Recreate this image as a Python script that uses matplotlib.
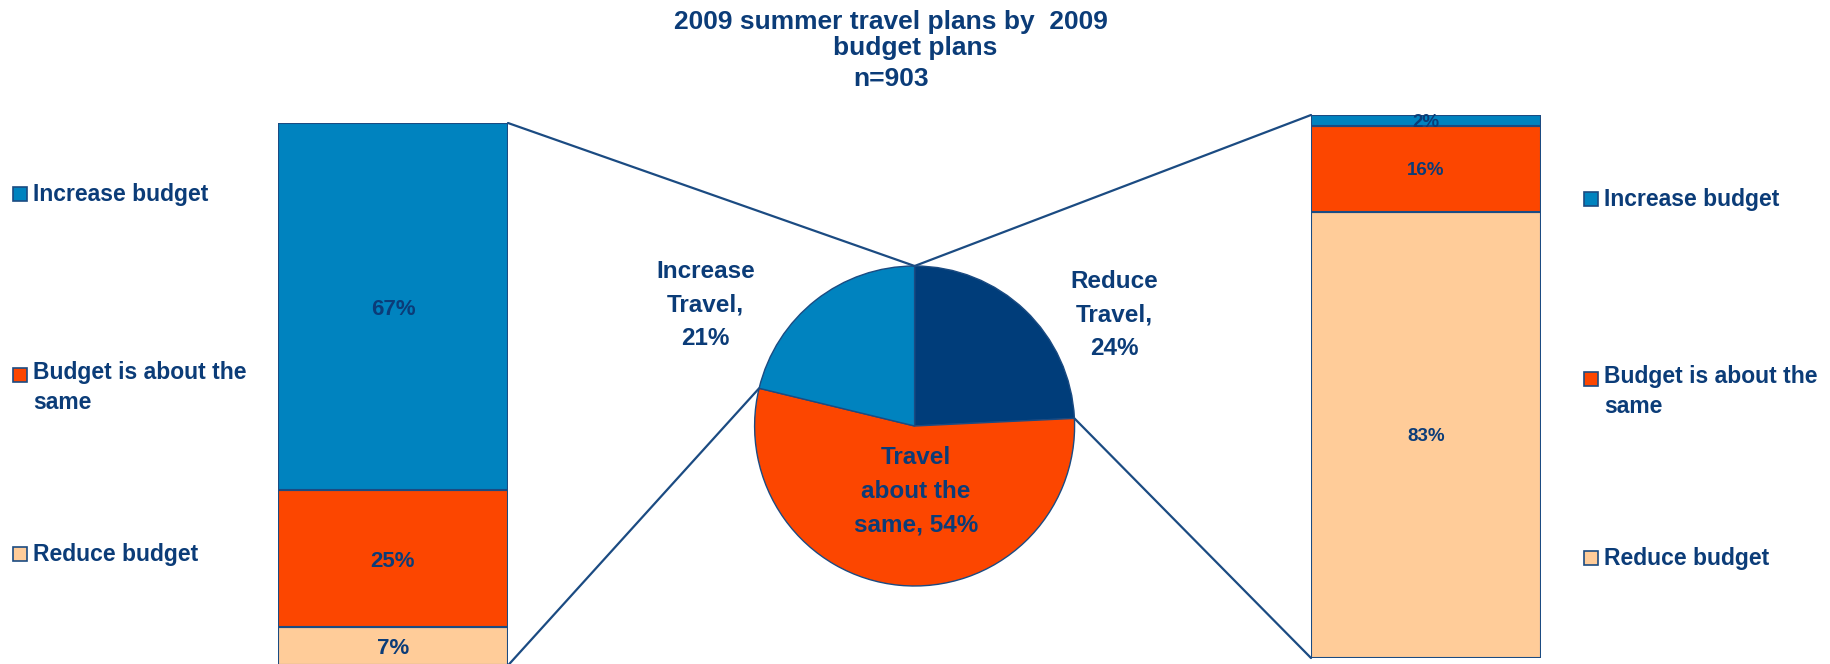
import matplotlib
matplotlib.use("Agg")
import matplotlib.pyplot as plt
from matplotlib.patches import ConnectionPatch, Rectangle
import numpy as np

# data
travel_labels = ['Reduce\nTravel,\n24%', 'Travel\nabout the\nsame, 54%', 'Increase\nTravel,\n21%']
travel_values = [24, 54, 21]
budget_labels = ['Increase budget', 'Budget is about the\nsame', 'Reduce budget']
increase_travel_budget = [67, 25, 7]   # increase, same, reduce
reduce_travel_budget = [2, 16, 83]
title_lines = ['2009 summer travel plans by  2009', 'budget plans', 'n=903']

navy = '#0B3C78'
edge = '#1B4B82'
budget_colors = ['#0083BF', '#FC4600', '#FFCC99']
travel_colors = ['#003D7A', '#FC4600', '#0083BF']

plt.rcParams['font.family'] = ['Liberation Sans', 'DejaVu Sans']
plt.rcParams['font.weight'] = 'bold'

W, H = 1831, 664
fig = plt.figure(figsize=(W / 100, H / 100), dpi=100)


def fx(px):
    return px / W


def fy(py):
    # pixel from top -> figure fraction
    return 1 - py / H


# title (baselines)
fig.text(fx(891), fy(29.3), title_lines[0], ha='center', va='baseline', fontsize=19, color=navy)
fig.text(fx(915), fy(55), title_lines[1], ha='center', va='baseline', fontsize=19, color=navy)
fig.text(fx(891), fy(86), title_lines[2], ha='center', va='baseline', fontsize=19, color=navy)

# pie
axP = fig.add_axes([fx(914.6 - 200), fy(426 + 200), 400 / W, 400 / H])
wedges, _ = axP.pie(travel_values, colors=travel_colors, startangle=90, counterclock=False,
                    wedgeprops=dict(edgecolor=edge, linewidth=1))
axP.set_xlim(-1.25, 1.25)
axP.set_ylim(-1.25, 1.25)
label_pos = [(1.25, 0.694), (0.009, -0.41), (-1.306, 0.756)]
for lab, (x, y) in zip(travel_labels, label_pos):
    axP.text(x, y, lab, ha='center', va='center', fontsize=17.5, color=navy,
             linespacing=1.6, clip_on=False)


def stacked_bar(ax, values, fontsize):
    # values listed top to bottom, stack from bottom
    bottom = 0
    for v, c in zip(values[::-1], budget_colors[::-1]):
        ax.bar(0, v, bottom=bottom, width=1, color=c, edgecolor=edge, linewidth=1.5)
        ax.text(0, bottom + v / 2, f'{v}%', ha='center', va='center_baseline',
                fontsize=fontsize, color=navy)
        bottom += v
    ax.set_xlim(-0.5, 0.5)
    ax.set_ylim(0, sum(values))
    ax.axis('off')


axL = fig.add_axes([fx(278), fy(665.4), 230 / W, (665.4 - 123) / H])
stacked_bar(axL, increase_travel_budget, 16)
axR = fig.add_axes([fx(1311), fy(658), 230 / W, (658 - 115) / H])
stacked_bar(axR, reduce_travel_budget, 13.5)

# connector lines
inc_w = wedges[2]
red_w = wedges[0]


def on_circle(deg):
    return (np.cos(np.radians(deg)), np.sin(np.radians(deg)))


for xyA, ang, ax in [((0.5, sum(increase_travel_budget)), inc_w.theta1, axL),
                     ((0.5, 0), inc_w.theta2, axL),
                     ((-0.5, sum(reduce_travel_budget)), red_w.theta2, axR),
                     ((-0.5, 0), red_w.theta1, axR)]:
    con = ConnectionPatch(xyA=xyA, coordsA=ax.transData, xyB=on_circle(ang),
                          coordsB=axP.transData, color=edge, linewidth=1.6)
    fig.add_artist(con)

# legends (square centre = first line centre)
legend_sets = [(13, [193.7, 375, 554]), (1584, [199, 379, 558])]
for x0, ys in legend_sets:
    for lab, c, y in zip(budget_labels, budget_colors, ys):
        fig.add_artist(Rectangle((fx(x0), fy(y + 7)), 14 / W, 14 / H, transform=fig.transFigure,
                                 facecolor=c, edgecolor=edge, linewidth=1.2))
        n = lab.count('\n')
        fig.text(fx(x0 + 20), fy(y + 7 + n * 27), lab, ha='left', va='baseline', fontsize=16.5,
                 color=navy, linespacing=1.4)

fig.savefig('out.png', dpi=100)
